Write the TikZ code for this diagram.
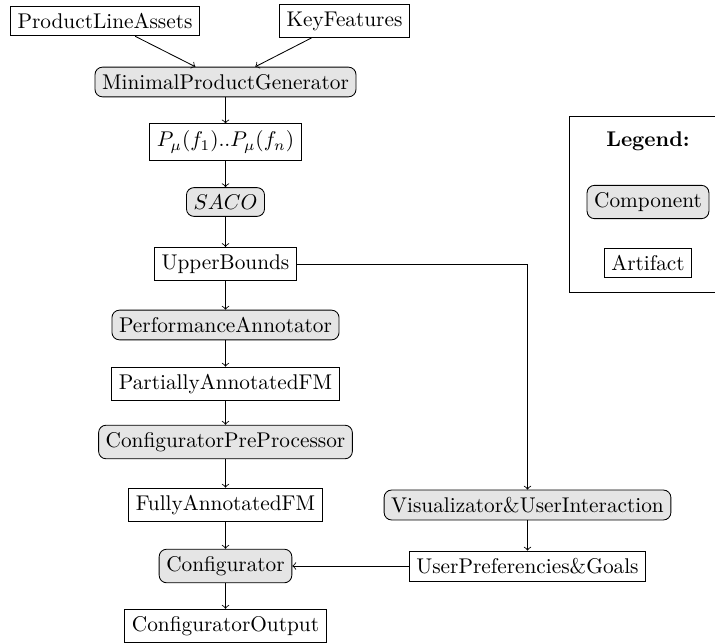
\documentclass[tikz,border=0pt]{standalone}
\usetikzlibrary{arrows}
\definecolor{compfill}{gray}{0.9}
\tikzset{
  comp/.style={draw, rounded corners=3.5pt, fill=compfill, inner sep=3.33pt},
  artifact/.style={draw, inner sep=3.33pt},
  flow/.style={->}
}
\begin{document}
\begin{tikzpicture}[x=0.4695pt, y=-0.4695pt]
\useasboundingbox (0,0) rectangle (715,643);
\clip (0,0) rectangle (715,643);
% legend
\draw (569.5,116) rectangle (740,292);
\node[font=\bfseries] (leg) at (648,141) {Legend:};
\node[comp] (lc) at (648,202) {Component};
\node[artifact] (la) at (648,263) {Artifact};
% main flow
\node[artifact] (pla) at (105,21) {ProductLineAssets};
\node[artifact] (kf) at (344.5,21) {KeyFeatures};
\node[comp] (mpg) at (225.5,82) {MinimalProductGenerator};
\node[artifact] (pmu) at (225.5,142) {$P_\mu(f_1)..P_\mu(f_n)$};
\node[comp] (saco) at (225.5,202) {$SACO$};
\node[artifact] (ub) at (225.5,264) {UpperBounds};
\node[comp] (pa) at (225.5,325) {PerformanceAnnotator};
\node[artifact] (pafm) at (225.5,384) {PartiallyAnnotatedFM};
\node[comp] (cpp) at (225.5,442) {ConfiguratorPreProcessor};
\node[artifact] (fafm) at (225.5,505) {FullyAnnotatedFM};
\node[comp] (conf) at (225.5,566) {Configurator};
\node[artifact] (co) at (225.5,626) {ConfiguratorOutput};
\node[comp] (vis) at (527.5,505) {Visualizator\&UserInteraction};
\node[artifact] (upg) at (527.5,566) {UserPreferencies\&Goals};
% connectors
\draw[flow] (pla) -- (mpg);
\draw[flow] (kf) -- (mpg);
\draw[flow] (mpg) -- (pmu);
\draw[flow] (pmu) -- (saco);
\draw[flow] (saco) -- (ub);
\draw[flow] (ub) -- (pa);
\draw[flow] (pa) -- (pafm);
\draw[flow] (pafm) -- (cpp);
\draw[flow] (cpp) -- (fafm);
\draw[flow] (fafm) -- (conf);
\draw[flow] (conf) -- (co);
\draw[flow] (ub.east) -| (vis.north);
\draw[flow] (vis) -- (upg);
\draw[flow] (upg) -- (conf);
\end{tikzpicture}
\end{document}
